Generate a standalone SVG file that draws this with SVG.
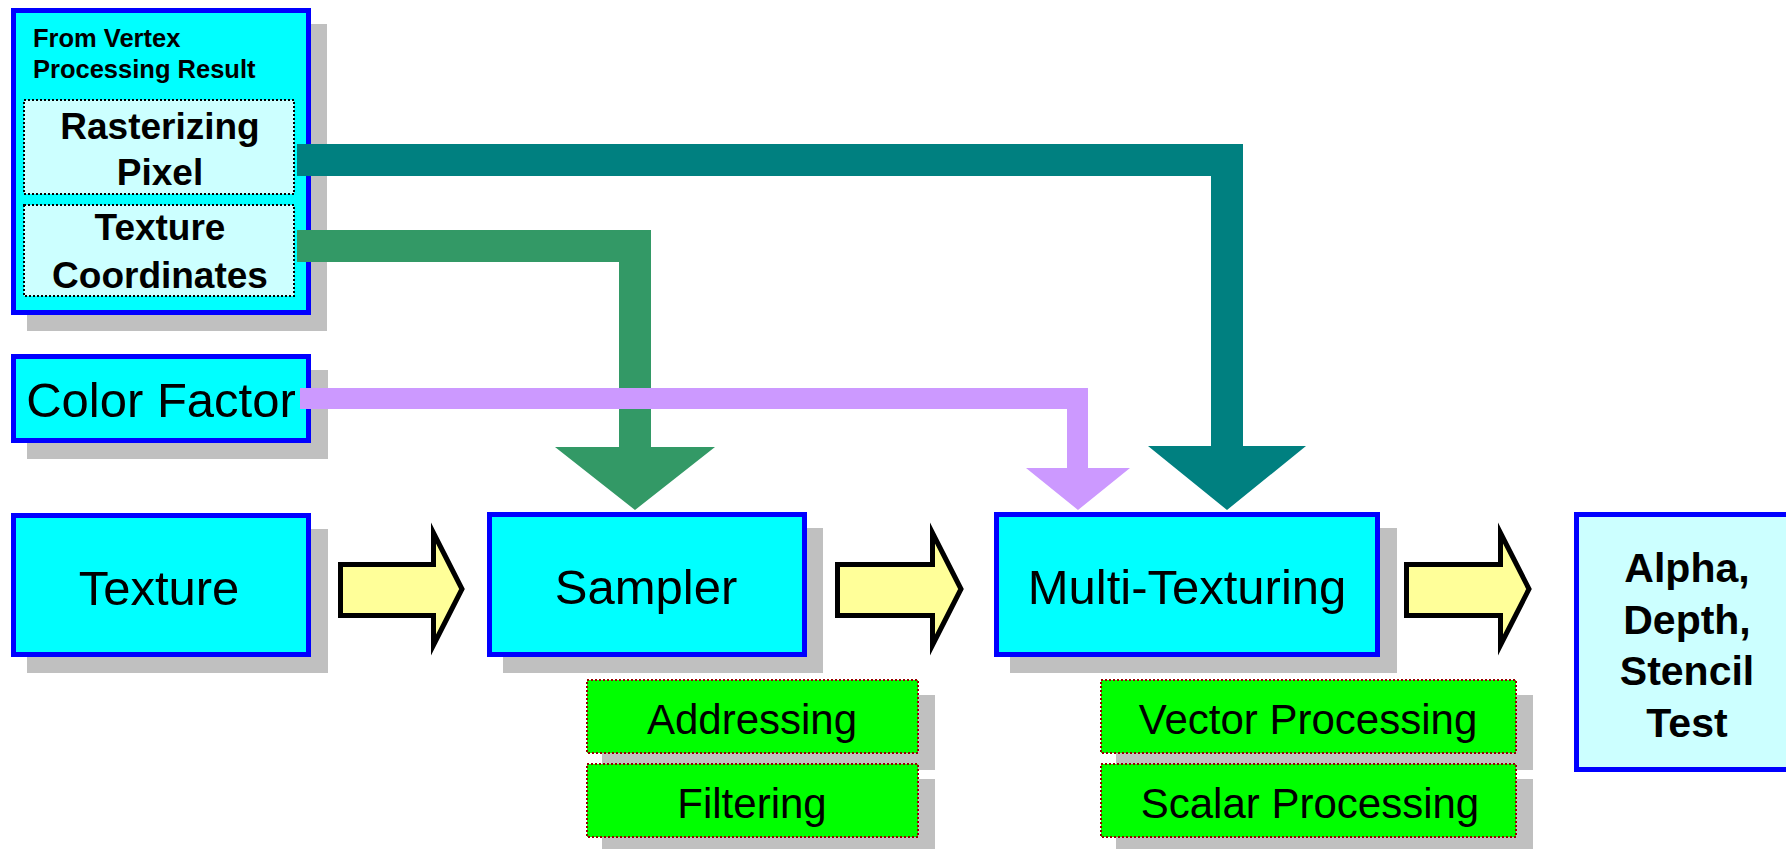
<svg xmlns="http://www.w3.org/2000/svg" width="1786" height="849" viewBox="0 0 1786 849">
<style>
.shadow{fill:#c0c0c0;}
.box{fill:#00ffff;stroke:#0000ff;stroke-width:5;}
.lbox{fill:#ccffff;stroke:#0000ff;stroke-width:5;}
.inner{fill:#ccffff;stroke:#000;stroke-width:2;stroke-dasharray:2 2;}
.sub{fill:#00ff00;stroke:#990000;stroke-width:2;stroke-dasharray:2 2;}
.yarrow{fill:#ffff99;stroke:#000;stroke-width:5;stroke-miterlimit:10;}
.t{font-family:"Liberation Sans",Arial,sans-serif;font-size:49px;text-anchor:middle;fill:#000;}
.ts{font-family:"Liberation Sans",Arial,sans-serif;font-size:42px;text-anchor:middle;fill:#000;}
.tb{font-family:"Liberation Sans",Arial,sans-serif;font-size:37px;font-weight:bold;text-anchor:middle;fill:#000;}
.tsm{font-family:"Liberation Sans",Arial,sans-serif;font-size:25.5px;font-weight:bold;fill:#000;}
.ta{font-family:"Liberation Sans",Arial,sans-serif;font-size:41px;font-weight:bold;text-anchor:middle;fill:#000;}
</style>
<rect width="1786" height="849" fill="#fff"/>

<g id="vertex-result">
<rect class="shadow" x="27" y="24" width="300" height="307"/>
<rect class="box" x="13.5" y="10.5" width="295" height="302"/>
<text class="tsm" x="33" y="47">From Vertex</text>
<text class="tsm" x="33" y="78">Processing Result</text>
<g id="rasterizing-pixel">
<rect class="inner" x="24" y="100" width="270" height="94"/>
<text class="tb" x="160" y="139">Rasterizing</text>
<text class="tb" x="160" y="185">Pixel</text>
</g>
<g id="texture-coordinates">
<rect class="inner" x="24" y="205" width="270" height="91"/>
<text class="tb" x="160" y="240">Texture</text>
<text class="tb" x="160" y="288">Coordinates</text>
</g>
</g>

<g id="color-factor">
<rect class="shadow" x="27" y="370" width="301" height="89"/>
<rect class="box" x="13.5" y="356.5" width="295" height="84"/>
<text class="t" x="161" y="417">Color Factor</text>
</g>

<g id="texture">
<rect class="shadow" x="27" y="529" width="301" height="144"/>
<rect class="box" x="13.5" y="515.5" width="295" height="139"/>
<text class="t" x="159" y="605">Texture</text>
</g>

<g id="sampler">
<rect class="shadow" x="503" y="528" width="320" height="145"/>
<rect class="box" x="489.5" y="514.5" width="315" height="140"/>
<text class="t" x="646" y="604">Sampler</text>
</g>

<g id="addressing">
<rect class="shadow" x="602" y="695" width="333" height="75"/>
<rect class="sub" x="587" y="680" width="331" height="73"/>
<text class="ts" x="752" y="734">Addressing</text>
</g>

<g id="filtering">
<rect class="shadow" x="602" y="779" width="333" height="75"/>
<rect class="sub" x="587" y="764" width="331" height="73"/>
<text class="ts" x="752" y="818">Filtering</text>
</g>

<g id="multi-texturing">
<rect class="shadow" x="1010" y="528" width="387" height="145"/>
<rect class="box" x="996.5" y="514.5" width="381" height="140"/>
<text class="t" x="1187" y="604">Multi-Texturing</text>
</g>

<g id="vector-processing">
<rect class="shadow" x="1116" y="695" width="417" height="75"/>
<rect class="sub" x="1101" y="680" width="415" height="73"/>
<text class="ts" x="1308" y="734">Vector Processing</text>
</g>

<g id="scalar-processing">
<rect class="shadow" x="1116" y="779" width="417" height="75"/>
<rect class="sub" x="1101" y="764" width="415" height="73"/>
<text class="ts" x="1310" y="818">Scalar Processing</text>
</g>

<g id="alpha-depth-stencil">
<rect class="lbox" x="1576.5" y="514.5" width="220" height="255"/>
<text class="ta" x="1687" y="582">Alpha,</text>
<text class="ta" x="1687" y="634">Depth,</text>
<text class="ta" x="1687" y="685">Stencil</text>
<text class="ta" x="1687" y="737">Test</text>
</g>

<g id="connectors">
<polygon class="yarrow" points="340.5,564.5 433.5,564.5 433.5,533 462,589 433.5,645 433.5,615.5 340.5,615.5"/>
<polygon class="yarrow" points="837.5,564.5 932.5,564.5 932.5,533 961,589 932.5,645 932.5,615.5 837.5,615.5"/>
<polygon class="yarrow" points="1406.5,564.5 1500.5,564.5 1500.5,533 1529,589 1500.5,645 1500.5,615.5 1406.5,615.5"/>
<polygon fill="#008080" points="297,144 1243,144 1243,446 1306,446 1227,510 1148,446 1211,446 1211,176 297,176"/>
<polygon fill="#339966" points="297,230 651,230 651,447 715,447 635,510 555,447 619,447 619,262 297,262"/>
<polygon fill="#cc99ff" points="300,388 1088,388 1088,468 1130,468 1078,510 1026,468 1067,468 1067,409 300,409"/>
</g>
</svg>
